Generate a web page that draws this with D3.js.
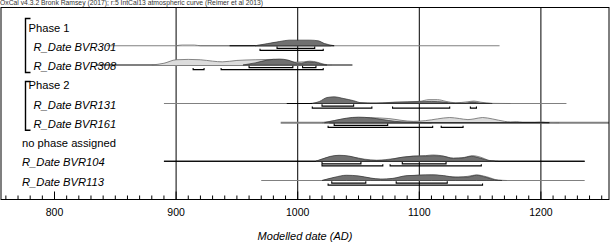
<!DOCTYPE html>
<html><head><meta charset="utf-8">
<script src="https://cdn.jsdelivr.net/npm/d3@7"></script>
<style>body{margin:0;background:#fff}svg{display:block}text{font-family:"Liberation Sans",Arial,sans-serif}</style>
</head><body><div id="chart"></div>
<script>
const header = "OxCal v4.3.2 Bronk Ramsey (2017); r:5 IntCal13 atmospheric curve (Reimer et al 2013)";
const axisTitle = "Modelled date (AD)";
const tickLabels = [800, 900, 1000, 1100, 1200];
const rowKeys = ["Phase 1","BVR301","BVR308","Phase 2","BVR131","BVR161","no phase assigned","BVR104","BVR113"];
const phases = [{name:"Phase 1", members:["BVR301","BVR308"]},{name:"Phase 2", members:["BVR131","BVR161"]}];
const headings = ["Phase 1","Phase 2","no phase assigned"];

// horizontal extent of each row's prior line and posterior line (years)
const priorLines = {BVR301:[843,1166],BVR308:[834,1045],BVR131:[890,1221],BVR161:[986,1260],BVR104:[890,1236],BVR113:[970,1236]};
const postLines = {BVR301:[944,1030],BVR131:[991,1158],BVR161:[1026,1207],BVR104:[890,1236]};

// unmodelled (prior) likelihoods, relative probability
const priorBVR301 = [[900,0],[905,0.1],[915,0.1],[920,0],[963,0],[985,0.5],[1000,0.6],[1015,0.6],[1022,0.3],[1030,0]];
const priorBVR308 = [[880,0],[890,0.25],[900,0.75],[910,0.8],[920,0.75],[930,0.55],[938,0.45],[950,0.65],[965,0.75],[980,0.8],[990,0.65],[998,0.4],[1005,0.45],[1010,0.55],[1016,0.4],[1022,0.1],[1028,0]];
const priorBVR131 = [[1010,0],[1020,0.2],[1028,0.35],[1040,0.3],[1050,0.15],[1065,0.05],[1080,0.2],[1100,0.3],[1108,0.55],[1115,0.55],[1122,0.3],[1130,0.1],[1140,0.25],[1145,0.35],[1150,0.2],[1160,0.02],[1175,0]];
const priorBVR161 = [[1020,0],[1030,0.3],[1040,0.6],[1050,0.75],[1060,0.72],[1075,0.6],[1085,0.35],[1095,0.2],[1105,0.3],[1115,0.55],[1125,0.75],[1133,0.6],[1140,0.45],[1145,0.55],[1152,0.75],[1160,0.55],[1170,0.2],[1175,0.1],[1180,0.15],[1185,0.05],[1195,0.05],[1200,0.1],[1205,0.02],[1215,0]];
const priorBVR104 = [[1015,0],[1025,0.55],[1034,0.75],[1045,0.6],[1055,0.3],[1065,0.15],[1080,0.4],[1095,0.75],[1105,0.8],[1111,0.9],[1118,0.8],[1128,0.45],[1137,0.55],[1144,0.8],[1150,0.6],[1158,0.1],[1165,0]];
const priorBVR113 = [[1020,0],[1030,0.35],[1040,0.65],[1050,0.6],[1060,0.3],[1070,0.15],[1080,0.3],[1092,0.65],[1105,0.8],[1112,0.8],[1122,0.55],[1132,0.5],[1140,0.6],[1147,0.8],[1155,0.55],[1165,0.05],[1172,0]];

// modelled (posterior) distributions, relative probability
const postBVR301 = [[965,0],[975,0.3],[985,0.6],[993,0.8],[1000,0.8],[1010,0.8],[1017,0.7],[1022,0.3],[1027,0]];
const postBVR308 = [[955,0],[965,0.3],[975,0.7],[985,0.85],[992,0.7],[999,0.3],[1003,0.25],[1008,0.45],[1014,0.4],[1020,0.1],[1024,0]];
const postBVR131 = [[1012,0],[1018,0.3],[1024,0.85],[1030,0.95],[1038,0.7],[1046,0.4],[1052,0.1],[1060,0.05],[1080,0.15],[1100,0.25],[1110,0.3],[1120,0.2],[1128,0.05],[1138,0.05],[1144,0.2],[1150,0.05],[1160,0]];
const postBVR161 = [[1022,0],[1030,0.3],[1040,0.65],[1050,0.8],[1060,0.7],[1070,0.45],[1080,0.2],[1090,0.1],[1100,0.05],[1110,0]];
const postBVR104 = [[1015,0],[1020,0.3],[1027,0.7],[1034,0.85],[1042,0.75],[1050,0.4],[1056,0.2],[1065,0.1],[1075,0.2],[1085,0.55],[1095,0.7],[1105,0.75],[1112,0.8],[1120,0.7],[1128,0.4],[1135,0.45],[1143,0.7],[1150,0.45],[1157,0.1],[1162,0]];
const postBVR113 = [[1020,0],[1030,0.45],[1040,0.75],[1050,0.65],[1060,0.35],[1068,0.2],[1078,0.3],[1090,0.7],[1100,0.75],[1110,0.8],[1120,0.7],[1130,0.45],[1140,0.5],[1147,0.75],[1155,0.45],[1162,0.1],[1168,0]];

// highest posterior density ranges
const r68 = {BVR301:[[983,1014]],BVR308:[[960,996],[1004,1015]],BVR131:[[1020,1046]],BVR161:[[1030,1074]],BVR104:[[1020,1052],[1086,1122]],BVR113:[[1028,1056],[1081,1123]]};
const r95 = {BVR301:[[969,1021]],BVR308:[[914,923],[937,1021]],BVR131:[[1012,1061],[1078,1125],[1142,1147]],BVR161:[[1025,1111],[1118,1136]],BVR104:[[1020,1070],[1076,1151]],BVR113:[[1025,1152]]};

const priors = {BVR301:priorBVR301,BVR308:priorBVR308,BVR131:priorBVR131,BVR161:priorBVR161,BVR104:priorBVR104,BVR113:priorBVR113};
const posts = {BVR301:postBVR301,BVR308:postBVR308,BVR131:postBVR131,BVR161:postBVR161,BVR104:postBVR104,BVR113:postBVR113};
const thickLine = {BVR308:true,BVR161:true};

const W=610,H=244;
const frame={l:1,r:609,t:7.5,b:199.5};
const bracketTop={"Phase 1":18.5,"Phase 2":81.5};
const svg=d3.select("#chart").append("svg").attr("width",W).attr("height",H);
const x=d3.scaleLinear().domain([756,1256]).range([frame.l,frame.r]);
const y=d3.scalePoint().domain(rowKeys).range([26.5,180.5]);
const h=d3.scaleLinear().domain([0,1]).range([0,7]);

svg.append("text").attr("x",0).attr("y",5).attr("font-size","6.4px").attr("fill","#333")
  .attr("textLength",263).attr("lengthAdjust","spacingAndGlyphs").text(header);

// gridlines
svg.append("g").selectAll("line").data(tickLabels.filter(d=>d>800)).join("line")
  .attr("x1",d=>x(d)).attr("x2",d=>x(d)).attr("y1",frame.t).attr("y2",frame.b)
  .attr("stroke","#000").attr("stroke-width",1);

// rows
const dateRows = rowKeys.filter(k=>!headings.includes(k));
const area=(base)=>d3.area().x(d=>x(d[0])).y0(base).y1(d=>base-h(d[1])).curve(d3.curveMonotoneX);
const line=(base)=>d3.line().x(d=>x(d[0])).y(d=>base-h(d[1])).curve(d3.curveMonotoneX);
const g=svg.append("g");
dateRows.forEach(k=>{
  const base=y(k);
  const pl=priorLines[k];
  g.append("line").attr("x1",x(pl[0])).attr("x2",Math.min(x(pl[1]),frame.r)).attr("y1",base).attr("y2",base)
    .attr("stroke",k==="BVR104"?"#000":"#808080").attr("stroke-width",thickLine[k]?2:1);
  g.append("path").attr("d",area(base)(priors[k])).attr("fill","#dcdcdc").attr("stroke","none");
  g.append("path").attr("d",line(base)(priors[k])).attr("fill","none").attr("stroke","#6a6a6a").attr("stroke-width",0.8);
  if(postLines[k]){const p=postLines[k];
    g.append("line").attr("x1",x(p[0])).attr("x2",x(p[1])).attr("y1",base).attr("y2",base).attr("stroke","#000").attr("stroke-width",1);}
  g.append("path").attr("d",area(base)(posts[k])).attr("fill","#707070").attr("stroke","#333").attr("stroke-width",0.7);
  r68[k].forEach(r=>{
    g.append("path").attr("d",`M${x(r[0])},${base+0.8}V${base+2.6}H${x(r[1])}V${base+0.8}`)
      .attr("fill","none").attr("stroke","#000").attr("stroke-width",1.1);
  });
  r95[k].forEach(r=>{
    g.append("path").attr("d",`M${x(r[0])},${base+3}V${base+4.6}H${x(r[1])}V${base+3}`)
      .attr("fill","none").attr("stroke","#000").attr("stroke-width",1.1);
  });
});

// labels
const lbl=svg.append("g");
rowKeys.forEach(k=>{
  const isHead=headings.includes(k);
  const inPhase=phases.some(p=>p.name===k||p.members.includes(k));
  const xPos = isHead ? (k==="no phase assigned"?22:28.5) : (inPhase?33.5:22);
  lbl.append("text").attr("x",xPos).attr("y",y(k)+5).attr("font-size","11.2px")
    .attr("font-style",isHead?"normal":"italic").attr("fill","#000")
    .text(isHead?k:"R_Date "+k);
});
// phase brackets
phases.forEach(p=>{
  const top=bracketTop[p.name], bot=y(p.members[p.members.length-1])+7.5;
  svg.append("path").attr("d",`M30.5,${top}H25.5V${bot}H30.5`).attr("fill","none").attr("stroke","#000").attr("stroke-width",1.4);
});

// frame
svg.append("rect").attr("x",frame.l).attr("y",frame.t).attr("width",frame.r-frame.l).attr("height",frame.b-frame.t)
  .attr("fill","none").attr("stroke","#000").attr("stroke-width",1);

// axis ticks (inward)
const minor=d3.range(760,1260,10);
svg.append("g").selectAll("line").data(minor).join("line")
  .attr("x1",d=>x(d)).attr("x2",d=>x(d)).attr("y1",frame.b).attr("y2",d=>frame.b-(d%100===0?8:4))
  .attr("stroke","#000").attr("stroke-width",1);
svg.append("g").selectAll("text").data(tickLabels).join("text")
  .attr("x",d=>x(d)).attr("y",216).attr("text-anchor","middle").attr("font-size","10.5px").text(d=>d);
svg.append("text").attr("x",(frame.l+frame.r)/2).attr("y",239.5).attr("text-anchor","middle")
  .attr("font-size","11px").attr("font-style","italic").text(axisTitle);
</script></body></html>
